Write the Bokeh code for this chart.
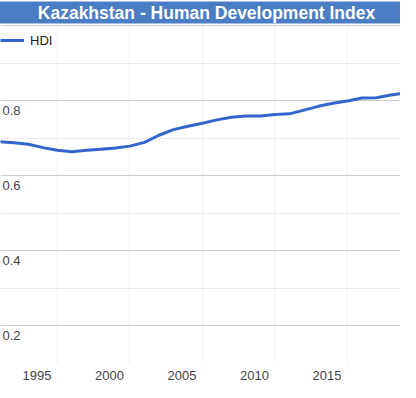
from bokeh.plotting import figure
from bokeh.models import FixedTicker, Legend, LegendItem, LinearAxis, Range1d
from bokeh.core.properties import value
from bokeh.embed import file_html
from bokeh.resources import INLINE

years = list(range(1990, 2021))
hdi = [0.692, 0.691, 0.688, 0.684, 0.675, 0.668, 0.664, 0.668, 0.671, 0.674,
       0.679, 0.689, 0.708, 0.723, 0.732, 0.740, 0.749, 0.756, 0.759, 0.759,
       0.763, 0.765, 0.775, 0.785, 0.793, 0.799, 0.807, 0.808, 0.815, 0.821,
       0.827]
x_ticks = [1995, 2000, 2005, 2010, 2015]
y_major = [0.2, 0.4, 0.6, 0.8, 1.0]
y_minor = [0.1, 0.3, 0.5, 0.7, 0.9]
y_labels = ["0.2", "0.4", "0.6", "0.8"]
y_label_vals = [0.2, 0.4, 0.6, 0.8]

FONT = "Liberation Sans"
X0, X1 = 1991.07, 2018.66
LABEL_SHIFT = 1.41  # x labels sit left of their gridlines, as in the original

p = figure(width=400, height=382, output_backend="svg", toolbar_location=None,
           x_range=(X0, X1), y_range=(0.1, 1.003),
           x_axis_location=None, y_axis_location=None,
           min_border_left=0, min_border_right=0,
           min_border_top=0, min_border_bottom=0)
p.outline_line_color = None

# title bar
p.title.text = "Kazakhstan - Human Development Index"
p.title.align = "center"
p.title.vertical_align = "middle"
p.title.text_color = "white"
p.title.text_font = FONT
p.title.text_font_size = "17.5px"
p.title.text_font_style = "bold"
p.title.background_fill_color = "#4a7dc3"
p.title.padding = dict(left=312, right=300, top=1, bottom=1)
p.title.standoff = 0
p.title.offset = 0

# x axis
p.extra_x_ranges = {"labels": Range1d(X0 + LABEL_SHIFT, X1 + LABEL_SHIFT)}
xa = LinearAxis(x_range_name="labels", ticker=FixedTicker(ticks=x_ticks))
xa.axis_line_color = None
xa.major_tick_line_color = None
xa.minor_tick_line_color = None
xa.major_tick_in = 0
xa.major_tick_out = 0
xa.major_label_standoff = 7
xa.major_label_text_font = FONT
xa.major_label_text_font_size = "13px"
xa.major_label_text_color = "#444444"
p.add_layout(xa, "below")

p.xgrid.ticker = FixedTicker(ticks=x_ticks)
p.xgrid.grid_line_color = "#f2f2f2"

p.ygrid.ticker = FixedTicker(ticks=y_major, minor_ticks=y_minor)
p.ygrid.grid_line_color = "#cccccc"
p.ygrid.minor_grid_line_color = "#ebebeb"

# y labels inside plot
p.text(x=[X0] * len(y_label_vals), y=y_label_vals, text=y_labels,
       x_offset=2, y_offset=5, text_baseline="top", text_align="left",
       text_font=value(FONT), text_font_size="13px", text_color="#444444")

r = p.line(years, hdi, line_color="#3366cc", line_width=3)

legend = Legend(items=[LegendItem(label="HDI", renderers=[r])],
                location="top_left", margin=0, padding=0,
                glyph_width=24, glyph_height=32, label_standoff=6,
                label_text_font=FONT, label_text_font_size="13px",
                label_text_color="#222222",
                border_line_color=None, background_fill_alpha=0)
p.add_layout(legend)

open("out.html", "w").write(file_html(p, INLINE))
